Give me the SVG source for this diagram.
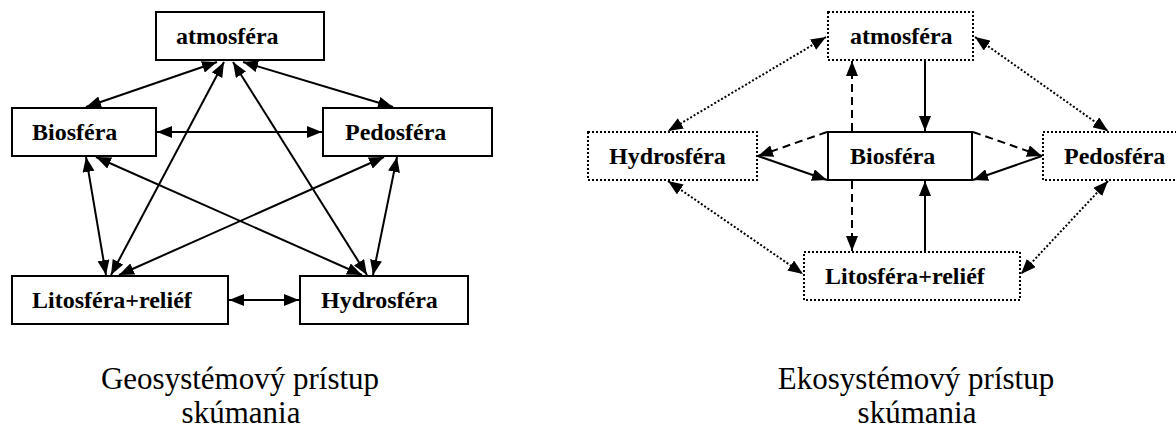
<svg xmlns="http://www.w3.org/2000/svg" width="1176" height="428" viewBox="0 0 1176 428">
<style>
.box{fill:#fff;stroke:#000;stroke-width:2}
.dot{fill:#fff;stroke:#000;stroke-width:2;stroke-dasharray:2 2}
.lbl{font-family:"Liberation Serif","Times New Roman",serif;font-weight:bold;font-size:24px;fill:#000}
.cap{font-family:"Liberation Serif","Times New Roman",serif;font-size:31px;fill:#000;text-anchor:middle}
.ln{stroke:#000;stroke-width:2;fill:none}
.ds{stroke:#000;stroke-width:2;fill:none;stroke-dasharray:8 5}
.dt{stroke:#000;stroke-width:2;fill:none;stroke-dasharray:2 2}
</style>
<defs>
<marker id="ah" markerUnits="userSpaceOnUse" markerWidth="15" markerHeight="12" refX="15" refY="6" orient="auto-start-reverse" viewBox="0 0 15 12">
<path d="M0,0 L15,6 L0,12 z" fill="#000"/>
</marker>
</defs>
<g id="connectors">
<!-- left diagram -->
<line class="ln" x1="217" y1="62" x2="86" y2="107" marker-start="url(#ah)" marker-end="url(#ah)"/>
<line class="ln" x1="243" y1="62" x2="393" y2="107" marker-start="url(#ah)" marker-end="url(#ah)"/>
<line class="ln" x1="157" y1="132" x2="322" y2="132" marker-start="url(#ah)" marker-end="url(#ah)"/>
<line class="ln" x1="224" y1="62" x2="111" y2="275" marker-start="url(#ah)" marker-end="url(#ah)"/>
<line class="ln" x1="233" y1="62" x2="367" y2="275" marker-start="url(#ah)" marker-end="url(#ah)"/>
<line class="ln" x1="86" y1="157" x2="106" y2="275" marker-start="url(#ah)" marker-end="url(#ah)"/>
<line class="ln" x1="96" y1="157" x2="362" y2="275" marker-start="url(#ah)" marker-end="url(#ah)"/>
<line class="ln" x1="384" y1="157" x2="119" y2="275" marker-start="url(#ah)" marker-end="url(#ah)"/>
<line class="ln" x1="397" y1="157" x2="373" y2="275" marker-start="url(#ah)" marker-end="url(#ah)"/>
<line class="ln" x1="229" y1="300" x2="299" y2="300" marker-start="url(#ah)" marker-end="url(#ah)"/>
<!-- right diagram -->
<line class="ln" x1="925" y1="61" x2="925" y2="131" marker-end="url(#ah)"/>
<line class="ds" x1="852" y1="131" x2="852" y2="61" marker-end="url(#ah)"/>
<line class="ds" x1="852" y1="181" x2="852" y2="251" marker-end="url(#ah)"/>
<line class="ln" x1="925" y1="251" x2="925" y2="181" marker-end="url(#ah)"/>
<line class="ds" x1="827" y1="132" x2="758" y2="156" marker-end="url(#ah)"/>
<line class="ln" x1="758" y1="156" x2="827" y2="180" marker-end="url(#ah)"/>
<line class="ds" x1="973" y1="132" x2="1042" y2="156" marker-end="url(#ah)"/>
<line class="ln" x1="1042" y1="156" x2="973" y2="180" marker-end="url(#ah)"/>
<line class="dt" x1="826" y1="37" x2="668" y2="131" marker-start="url(#ah)" marker-end="url(#ah)"/>
<line class="dt" x1="975" y1="37" x2="1108" y2="131" marker-start="url(#ah)" marker-end="url(#ah)"/>
<line class="dt" x1="668" y1="181" x2="803" y2="274" marker-start="url(#ah)" marker-end="url(#ah)"/>
<line class="dt" x1="1108" y1="181" x2="1021" y2="274" marker-start="url(#ah)" marker-end="url(#ah)"/>
</g>
<g id="geo-atmosfera"><rect class="box" x="156" y="12" width="168" height="48"/><text class="lbl" x="176" y="44">atmosféra</text></g>
<g id="geo-biosfera"><rect class="box" x="12" y="108" width="144" height="48"/><text class="lbl" x="32" y="140">Biosféra</text></g>
<g id="geo-pedosfera"><rect class="box" x="323" y="108" width="169" height="48"/><text class="lbl" x="345" y="140">Pedosféra</text></g>
<g id="geo-litosfera"><rect class="box" x="12" y="276" width="216" height="48"/><text class="lbl" x="32" y="308">Litosféra+reliéf</text></g>
<g id="geo-hydrosfera"><rect class="box" x="300" y="276" width="168" height="48"/><text class="lbl" x="321" y="308">Hydrosféra</text></g>
<g id="eko-atmosfera"><rect class="dot" x="828" y="12" width="145" height="48"/><text class="lbl" x="850" y="44">atmosféra</text></g>
<g id="eko-hydrosfera"><rect class="dot" x="588" y="132" width="169" height="48"/><text class="lbl" x="609" y="164">Hydrosféra</text></g>
<g id="eko-biosfera"><rect class="box" x="828" y="132" width="144" height="48"/><text class="lbl" x="850" y="164">Biosféra</text></g>
<g id="eko-pedosfera"><rect class="dot" x="1043" y="132" width="140" height="48"/><text class="lbl" x="1064" y="164">Pedosféra</text></g>
<g id="eko-litosfera"><rect class="dot" x="804" y="252" width="216" height="48"/><text class="lbl" x="825" y="284">Litosféra+reliéf</text></g>
<g id="captions">
<text class="cap" x="240" y="389">Geosystémový prístup</text>
<text class="cap" x="241" y="423">skúmania</text>
<text class="cap" x="916" y="389">Ekosystémový prístup</text>
<text class="cap" x="917" y="423">skúmania</text>
</g>
</svg>
